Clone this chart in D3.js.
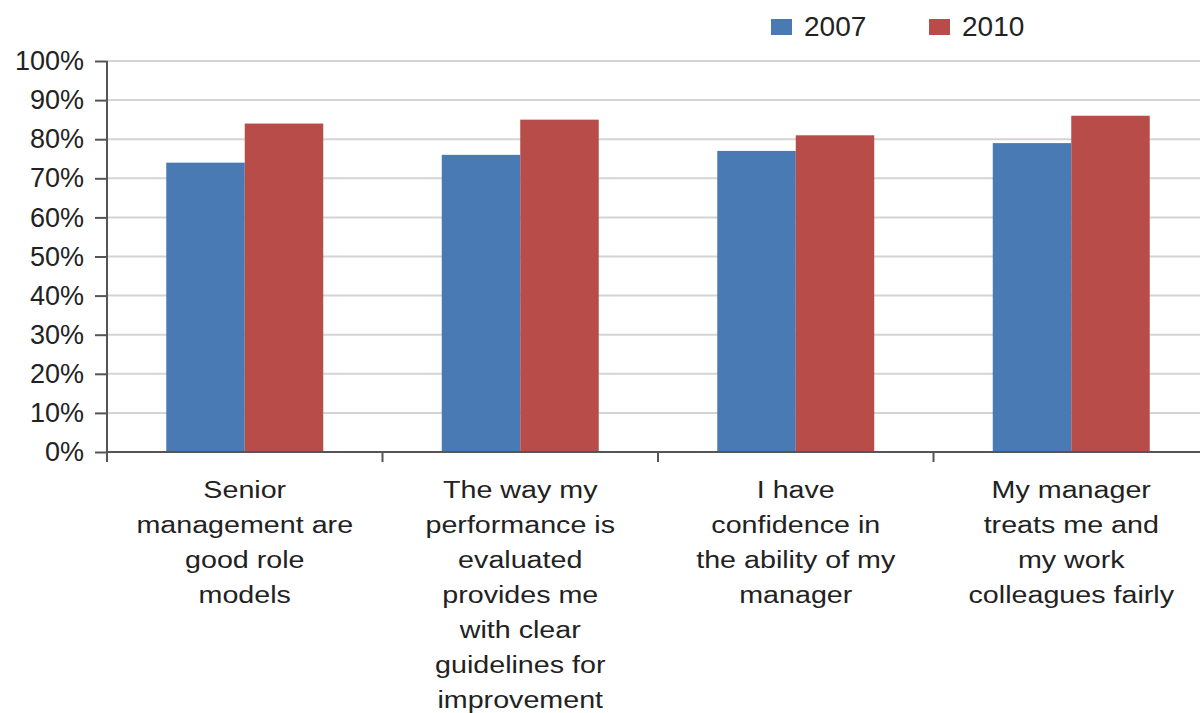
<!DOCTYPE html>
<html><head><meta charset="utf-8">
<script src="https://cdn.jsdelivr.net/npm/d3@7"></script>
<style>
html,body{margin:0;padding:0;background:#fff;}
svg{display:block;font-family:"Liberation Sans",Arial,sans-serif;}
</style></head>
<body>
<svg id="chart" width="1200" height="713"></svg>
<script>
const categories = [
  ["Senior","management are","good role","models"],
  ["The way my","performance is","evaluated","provides me","with clear","guidelines for","improvement"],
  ["I have","confidence in","the ability of my","manager"],
  ["My manager","treats me and","my work","colleagues fairly"]
];
const seriesNames = ["2007","2010"];
const values2007 = [0.74, 0.76, 0.77, 0.79];
const values2010 = [0.84, 0.85, 0.81, 0.86];
const yTicks = [0,0.1,0.2,0.3,0.4,0.5,0.6,0.7,0.8,0.9,1.0];
const colors = ["#4a7ab4","#b84c49"];

(function(){
const svg = d3.select("#chart");
const mLeft = 107, mRight = 1209, mTop = 61, mBottom = 452;
const catIdx = categories.map((d,i)=>i);
const x0 = d3.scaleBand().domain(catIdx).range([mLeft,mRight]).padding(0);
const x1 = d3.scaleBand().domain(seriesNames).range([0,x0.bandwidth()]).paddingInner(0).paddingOuter(0.755);
const y = d3.scaleLinear().domain([0,1]).range([mBottom,mTop]);
const color = d3.scaleOrdinal().domain(seriesNames).range(colors);

// gridlines
svg.append("g").selectAll("line").data(yTicks.filter(d=>d>0)).join("line")
  .attr("x1",mLeft).attr("x2",1200).attr("y1",d=>y(d)).attr("y2",d=>y(d))
  .attr("stroke","#d4d4d4").attr("stroke-width",2);

// bars
const data = catIdx.map(i=>[{s:"2007",v:values2007[i]},{s:"2010",v:values2010[i]}]);
svg.append("g").selectAll("g").data(data).join("g")
  .attr("transform",(d,i)=>`translate(${x0(i)},0)`)
  .selectAll("rect").data(d=>d).join("rect")
  .attr("x",d=>x1(d.s)).attr("width",x1.bandwidth())
  .attr("y",d=>y(d.v)).attr("height",d=>mBottom-y(d.v))
  .attr("fill",d=>color(d.s));

// y axis
const yAxis = d3.axisLeft(y).tickValues(yTicks).tickFormat(d3.format(".0%")).tickSize(12).tickPadding(11);
const ga = svg.append("g").attr("transform",`translate(${mLeft},0)`).call(yAxis);
ga.select(".domain").remove();
ga.selectAll(".tick line").attr("stroke","#555").attr("stroke-width",2);
ga.selectAll(".tick text").attr("font-size",27).attr("fill","#222").attr("font-family","Liberation Sans, Arial, sans-serif");
svg.append("line").attr("x1",mLeft).attr("x2",mLeft).attr("y1",mTop).attr("y2",mBottom+10)
  .attr("stroke","#555").attr("stroke-width",2);

// x axis
svg.append("line").attr("x1",mLeft).attr("x2",1200).attr("y1",mBottom).attr("y2",mBottom)
  .attr("stroke","#555").attr("stroke-width",2);
svg.append("g").selectAll("line").data(catIdx.slice(1)).join("line")
  .attr("x1",d=>x0(d)).attr("x2",d=>x0(d)).attr("y1",mBottom).attr("y2",mBottom+10)
  .attr("stroke","#555").attr("stroke-width",2);

// category labels
const lab = svg.append("g").selectAll("g").data(categories).join("g")
  .attr("transform",(d,i)=>`translate(${x0(i)+x0.bandwidth()/2},498) scale(1.17,1)`);
lab.selectAll("text").data(d=>d).join("text")
  .attr("x",0).attr("y",(d,j)=>j*35)
  .attr("text-anchor","middle").attr("font-size",24.5).attr("fill","#222")
  .text(d=>d);

// legend
const legX = [771, 929];
const leg = svg.append("g").selectAll("g").data(seriesNames).join("g")
  .attr("transform",(d,i)=>`translate(${legX[i]},0)`);
leg.append("rect").attr("x",0).attr("y",19).attr("width",21).attr("height",16).attr("fill",d=>color(d));
leg.append("text").attr("x",33).attr("y",36).attr("font-size",28).attr("fill","#222").text(d=>d);
})();
</script>
</body></html>
